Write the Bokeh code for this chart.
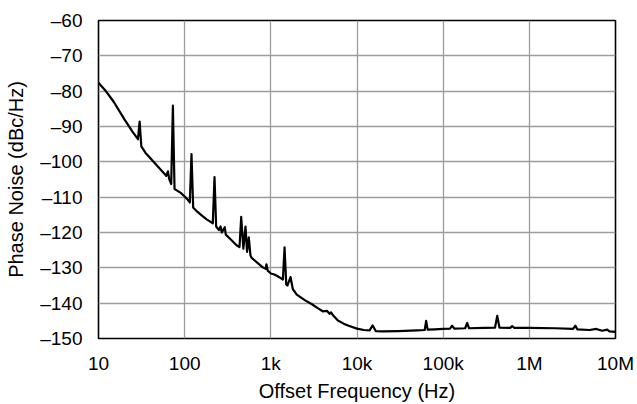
from bokeh.plotting import figure
from bokeh.models import FixedTicker, ColumnDataSource
from bokeh.embed import file_html
from bokeh.resources import INLINE

# Offset frequency (Hz) and measured phase noise (dBc/Hz)
freq_hz = [
    10, 12, 15, 20, 25, 28, 28.7, 30, 31.4, 35, 40, 50, 60, 61, 64, 66, 69.8,
    73, 76.3, 80, 90, 100, 110, 114.7, 120, 125.5, 140, 160, 180, 200, 212,
    222, 232, 250, 261, 270, 292, 300, 350, 400, 433, 453, 480, 508, 530, 555,
    580, 600, 700, 800, 870, 890, 920, 1000, 1100, 1200, 1300, 1380, 1443,
    1510, 1560, 1690, 1800, 2000, 2500, 3000, 3500, 4000, 4500, 4800, 5000,
    5300, 6000, 7000, 8000, 10000, 12000, 14000, 15200, 16500, 20000, 30000,
    50000, 61000, 63500, 66000, 80000, 100000, 120000, 127000, 135000, 180000,
    190000, 200000, 300000, 400000, 424000, 450000, 600000, 631000, 670000,
    1e6, 2e6, 3.2e6, 3.43e6, 3.6e6, 5e6, 6e6, 7e6, 8e6, 8.5e6, 1e7,
]
noise_dbc = [
    -77.6, -79.8, -83.0, -88.0, -91.6, -93.2, -93.6, -88.6, -95.6, -97.4,
    -99.0, -101.6, -103.7, -104.0, -102.7, -104.8, -106.3, -84.1, -107.7,
    -108.0, -108.8, -109.8, -110.9, -111.5, -97.8, -112.9, -114.1, -115.3,
    -116.3, -117.0, -117.4, -104.3, -118.3, -119.3, -118.3, -120.0, -118.5,
    -120.6, -122.2, -123.6, -124.1, -115.6, -124.6, -118.3, -125.5, -121.4,
    -126.5, -127.2, -128.6, -129.8, -130.3, -129.0, -130.8, -131.6, -131.9,
    -132.4, -132.9, -133.3, -124.2, -134.7, -135.0, -132.6, -136.0, -137.6,
    -139.2, -140.3, -141.4, -142.3, -142.2, -143.0, -142.6, -143.5, -144.9,
    -145.8, -146.4, -147.2, -147.6, -147.7, -146.3, -147.9, -148.0, -147.9,
    -147.7, -147.6, -145.0, -147.5, -147.4, -147.3, -147.2, -146.4, -147.2,
    -147.1, -145.6, -147.1, -147.0, -146.9, -143.6, -146.9, -147.0, -146.5,
    -147.0, -147.0, -147.1, -147.3, -146.4, -147.4, -147.6, -147.3, -147.8,
    -147.5, -148.0, -148.1,
]

x_ticks = [10, 100, 1000, 10000, 100000, 1000000, 10000000]
x_tick_labels = ["10", "100", "1k", "10k", "100k", "1M", "10M"]
y_ticks = [-150, -140, -130, -120, -110, -100, -90, -80, -70, -60]
y_tick_labels = ["\u2013" + str(abs(v)) for v in y_ticks]

FONT = "Liberation Sans"

p = figure(
    width=637, height=404,
    x_axis_type="log",
    x_range=(10, 1e7), y_range=(-150, -60),
    output_backend="svg", toolbar_location=None,
    min_border_left=98, min_border_right=22,
    min_border_top=20, min_border_bottom=64,
)
p.background_fill_color = "white"
p.border_fill_color = "white"
p.outline_line_color = "black"
p.outline_line_width = 1.6

src = ColumnDataSource(data=dict(f=freq_hz, pn=noise_dbc))
p.line("f", "pn", source=src, line_color="black", line_width=2.2,
       line_join="round")

p.xaxis.ticker = FixedTicker(ticks=x_ticks)
p.xaxis.major_label_overrides = {t: s for t, s in zip(x_ticks, x_tick_labels)}
p.yaxis.ticker = FixedTicker(ticks=y_ticks)
p.yaxis.major_label_overrides = {t: s for t, s in zip(y_ticks, y_tick_labels)}

p.xaxis.axis_label = "Offset Frequency (Hz)"
p.yaxis.axis_label = "Phase Noise (dBc/Hz)"

for ax in (p.xaxis, p.yaxis):
    ax.axis_line_color = None
    ax.major_tick_line_color = None
    ax.minor_tick_line_color = None
    ax.major_label_text_font = FONT
    ax.major_label_text_font_size = "19px"
    ax.major_label_text_color = "black"
    ax.axis_label_text_font = FONT
    ax.axis_label_text_font_size = "20px"
    ax.axis_label_text_font_style = "normal"
    ax.axis_label_text_color = "black"

p.xaxis.major_label_standoff = 8
p.xaxis.axis_label_standoff = 3
p.yaxis.major_label_standoff = 10
p.yaxis.axis_label_standoff = 10

p.xgrid.ticker = FixedTicker(ticks=x_ticks)
p.ygrid.ticker = FixedTicker(ticks=y_ticks)
for g in (p.xgrid, p.ygrid):
    g.grid_line_color = "#9c9c9c"
    g.grid_line_width = 1.3

open("out.html", "w").write(file_html(p, INLINE))
